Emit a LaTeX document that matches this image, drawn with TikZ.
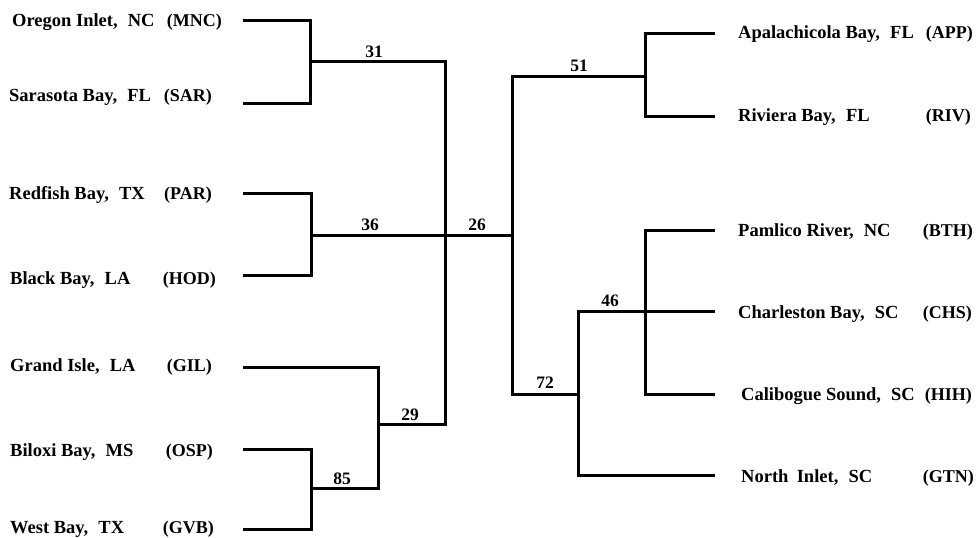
\documentclass[tikz,border=0pt]{standalone}
\usepackage{fontspec}
\setmainfont{Liberation Serif}
\newcommand{\gp}{\hspace{0.55em}}
\begin{document}
\begin{tikzpicture}[x=1pt,y=-1pt,
  tree/.style={line width=3pt},
  lbl/.style={anchor=base west,inner sep=0pt,font=\bfseries\fontsize{18.5}{20}\selectfont},
  code/.style={anchor=base east,inner sep=0pt,font=\bfseries\fontsize{18}{20}\selectfont},
  num/.style={anchor=center,inner sep=0pt,font=\bfseries\fontsize{17.5}{19}\selectfont}]
\useasboundingbox (0,0) rectangle (978,538);
% left labels
\node[lbl] (mnc) at (12,26.5) {Oregon Inlet,\gp NC};
\node[code] (mncc) at (222,26.5) {(MNC)};
\node[lbl] (sar) at (9,101) {Sarasota Bay,\gp FL};
\node[code] (sarc) at (212,101) {(SAR)};
\node[lbl] (par) at (9,199) {Redfish Bay,\gp TX};
\node[code] (parc) at (212,199) {(PAR)};
\node[lbl] (hod) at (10,284.5) {Black Bay,\gp LA};
\node[code] (hodc) at (216,284.5) {(HOD)};
\node[lbl] (gil) at (10,371) {Grand Isle,\gp LA};
\node[code] (gilc) at (212,371) {(GIL)};
\node[lbl] (osp) at (10,456) {Biloxi Bay,\gp MS};
\node[code] (ospc) at (213,456) {(OSP)};
\node[lbl] (gvb) at (10,533) {West Bay,\gp TX};
\node[code] (gvbc) at (214,533) {(GVB)};
% right labels
\node[lbl] (app) at (738,38) {Apalachicola Bay,\gp FL};
\node[code] (appc) at (973,38) {(APP)};
\node[lbl] (riv) at (738,121) {Riviera Bay,\gp FL};
\node[code] (rivc) at (971,121) {(RIV)};
\node[lbl] (bth) at (738,236) {Pamlico River,\gp NC};
\node[code] (bthc) at (973,236) {(BTH)};
\node[lbl] (chs) at (738,318.5) {Charleston Bay,\gp SC};
\node[code] (chsc) at (972,318.5) {(CHS)};
\node[lbl] (hih) at (741,400) {Calibogue Sound,\gp SC};
\node[code] (hihc) at (972,400) {(HIH)};
\node[lbl] (gtn) at (741,482) {North\hspace{0.45em}Inlet,\gp SC};
\node[code] (gtnc) at (974,482) {(GTN)};
% leaf line ends
\coordinate (mncE) at (243,20);
\coordinate (sarE) at (243,103);
\coordinate (parE) at (243,193);
\coordinate (hodE) at (243,275);
\coordinate (gilE) at (243,367);
\coordinate (ospE) at (243,449);
\coordinate (gvbE) at (243,529);
\coordinate (appE) at (715,33);
\coordinate (rivE) at (715,116);
\coordinate (bthE) at (715,230);
\coordinate (chsE) at (715,311);
\coordinate (hihE) at (715,394);
\coordinate (gtnE) at (715,475);
% junctions
\coordinate (c31) at (310,61);
\coordinate (c36) at (311,235);
\coordinate (c85) at (311,488);
\coordinate (c29) at (378,424);
\coordinate (c26L) at (445,235);
\coordinate (c26R) at (512,235);
\coordinate (c51) at (645,76);
\coordinate (cBH) at (645,311);
\coordinate (c46) at (578,394);
% tree
\draw[tree] (mncE) -| (c31) |- (sarE);
\draw[tree] (parE) -| (c36) |- (hodE);
\draw[tree] (ospE) -| (c85) |- (gvbE);
\draw[tree] (gilE) -| (c29) |- (c85);
\draw[tree] (c31) -| (c26L) |- (c29);
\draw[tree] (c36) -- (c26L) -- (c26R);
\draw[tree] (appE) -| (c51) |- (rivE);
\draw[tree] (bthE) -| (cBH) |- (hihE);
\draw[tree] (chsE) -| (c46) |- (gtnE);
\draw[tree] (c51) -| (c26R) |- (c46);
% numbers
\node[num] (n31) at (374,52) {31};
\node[num] (n36) at (370,225) {36};
\node[num] (n26) at (477,225) {26};
\node[num] (n29) at (410,415) {29};
\node[num] (n85) at (342,479) {85};
\node[num] (n51) at (579,66) {51};
\node[num] (n46) at (610,301) {46};
\node[num] (n72) at (545,383) {72};
\end{tikzpicture}
\end{document}
